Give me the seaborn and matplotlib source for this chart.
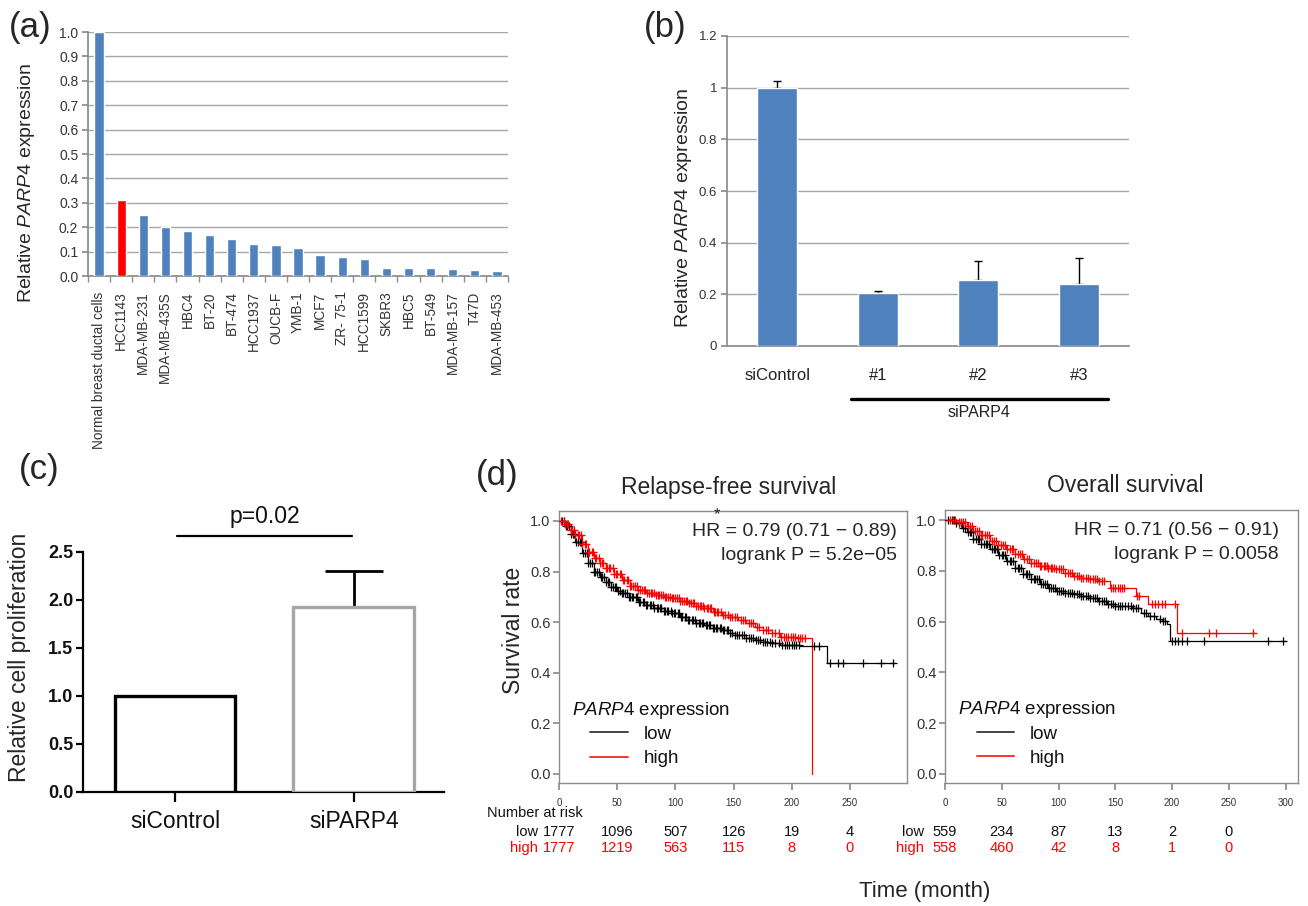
import matplotlib

matplotlib.use("Agg")
import matplotlib.pyplot as plt
import numpy as np
import seaborn as sns
from matplotlib.lines import Line2D

# (a) PARP4 expression across breast cancer cell lines
cell_lines = [
    "Normal breast ductal cells", "HCC1143", "MDA-MB-231", "MDA-MB-435S", "HBC4",
    "BT-20", "BT-474", "HCC1937", "OUCB-F", "YMB-1", "MCF7", "ZR- 75-1", "HCC1599",
    "SKBR3", "HBC5", "BT-549", "MDA-MB-157", "T47D", "MDA-MB-453",
]
cell_expression = [1.0, 0.311, 0.250, 0.201, 0.183, 0.168, 0.153, 0.133, 0.127, 0.114,
                   0.085, 0.079, 0.070, 0.031, 0.031, 0.031, 0.027, 0.026, 0.021]

# (b) knockdown efficiency
kd_groups = ["siControl", "#1", "#2", "#3"]
kd_mean = [1.0, 0.204, 0.255, 0.241]
kd_err = [0.027, 0.009, 0.074, 0.098]

# (c) proliferation
prolif_groups = ["siControl", "siPARP4"]
prolif_mean = [1.0, 1.93]
prolif_err = [0.0, 0.37]

# (d) Kaplan-Meier curves, relapse-free survival
rfs_low_t = [0, 5, 10, 14, 20, 25, 30, 35, 40, 45, 50, 54, 60, 68, 75, 82, 90, 97, 104, 111,
             118, 125, 132, 140, 147, 151, 161, 168, 175, 183, 190, 207, 230, 289]
rfs_low_s = [1.0, 0.98, 0.95, 0.918, 0.875, 0.833, 0.80, 0.78, 0.758, 0.738, 0.722, 0.714,
             0.698, 0.681, 0.667, 0.655, 0.644, 0.635, 0.622, 0.609, 0.598, 0.589, 0.579,
             0.569, 0.556, 0.549, 0.536, 0.53, 0.523, 0.516, 0.510, 0.507, 0.437, 0.437]
rfs_high_t = [0, 5, 10, 14, 20, 25, 30, 35, 40, 47, 54, 61, 68, 75, 83, 90, 97, 104, 111, 118,
              125, 132, 140, 147, 154, 161, 168, 175, 183, 190, 197, 204, 217]
rfs_high_s = [1.0, 0.99, 0.965, 0.945, 0.91, 0.879, 0.855, 0.832, 0.813, 0.79, 0.767, 0.745,
              0.727, 0.717, 0.708, 0.70, 0.694, 0.685, 0.675, 0.665, 0.655, 0.642, 0.628,
              0.622, 0.61, 0.596, 0.582, 0.569, 0.556, 0.543, 0.54, 0.536, 0.0]
rfs_low_cens = [3, 4, 6, 7, 9, 10, 12, 13, 15, 16, 18, 19, 21, 22, 24, 25, 27, 28, 30, 31, 33,
                34, 36, 37, 39, 40, 42, 43, 45, 46, 48, 49, 51, 52, 54, 55, 57, 58, 60, 61, 63,
                64, 66, 67, 69, 70, 72, 73, 75, 76, 78, 79, 81, 82, 84, 85, 87, 88, 90, 91, 93,
                94, 96, 97, 99, 100, 102, 103, 105, 106, 108, 109, 111, 112, 114, 115, 117,
                118, 120, 121, 123, 124, 126, 127, 129, 130, 132, 133, 135, 136, 138, 139,
                141, 142, 144, 145, 147, 149, 151, 153, 155, 157, 159, 161, 163, 165, 167,
                169, 171, 173, 175, 177, 179, 181, 183, 186, 189, 192, 194, 196, 198, 200,
                202, 204, 206, 219, 223, 233, 240, 244, 261, 277, 287]
rfs_high_cens = [2, 4, 5, 7, 8, 10, 11, 13, 14, 16, 17, 19, 20, 22, 23, 25, 26, 28, 29, 31, 32,
                 34, 35, 37, 38, 40, 41, 43, 44, 46, 47, 49, 50, 52, 53, 55, 56, 58, 59, 61,
                 62, 64, 65, 67, 68, 70, 71, 73, 74, 76, 77, 79, 80, 82, 83, 85, 86, 88, 89,
                 91, 92, 94, 95, 97, 98, 100, 101, 103, 104, 106, 107, 109, 110, 112, 113,
                 115, 116, 118, 119, 121, 122, 124, 125, 127, 128, 130, 131, 133, 134, 136,
                 137, 139, 141, 143, 145, 147, 149, 151, 153, 156, 158, 160, 163, 165, 167,
                 170, 172, 175, 178, 180, 183, 186, 189, 191, 193, 195, 197, 199, 201, 203,
                 205, 207, 209, 211]

# (d) overall survival
os_low_t = [0, 10, 15, 19, 25, 32, 40, 47, 54, 62, 69, 76, 84, 91, 98, 106, 113, 120, 128, 135,
            143, 150, 165, 173, 179, 186, 191, 196, 198, 300]
os_low_s = [1.0, 0.99, 0.97, 0.951, 0.925, 0.905, 0.885, 0.862, 0.839, 0.812, 0.787, 0.766,
            0.747, 0.733, 0.72, 0.713, 0.707, 0.70, 0.694, 0.68, 0.668, 0.661, 0.655, 0.635,
            0.622, 0.612, 0.602, 0.589, 0.523, 0.523]
os_high_t = [0, 10, 19, 25, 32, 40, 47, 54, 62, 69, 76, 84, 91, 98, 106, 113, 120, 128, 135,
             145, 168, 179, 204, 274]
os_high_s = [1.0, 0.993, 0.977, 0.958, 0.94, 0.918, 0.90, 0.885, 0.865, 0.846, 0.832, 0.82,
             0.812, 0.806, 0.793, 0.78, 0.773, 0.767, 0.76, 0.734, 0.70, 0.668, 0.556, 0.556]
os_low_cens = [3, 6, 8, 10, 12, 14, 16, 18, 20, 22, 23, 25, 27, 29, 30, 32, 34, 36, 37, 39,
               41, 43, 44, 46, 48, 50, 51, 53, 55, 57, 58, 60, 62, 64, 65, 67, 69, 71, 72, 74,
               76, 78, 79, 81, 83, 85, 86, 88, 90, 92, 93, 95, 97, 99, 100, 102, 104, 106,
               108, 110, 112, 114, 116, 118, 120, 122, 124, 126, 128, 130, 132, 134, 136, 138,
               140, 142, 144, 146, 148, 150, 152, 154, 156, 159, 161, 164, 166, 168, 170, 175,
               177, 181, 184, 189, 192, 194, 200, 203, 205, 209, 213, 228, 285, 298]
os_high_cens = [4, 7, 9, 12, 14, 16, 18, 20, 22, 24, 26, 28, 30, 32, 33, 35, 37, 39, 41, 43,
                45, 47, 49, 51, 53, 55, 57, 59, 60, 62, 64, 66, 68, 70, 72, 74, 76, 78, 80, 82,
                84, 85, 87, 88, 90, 91, 93, 94, 96, 98, 100, 102, 104, 106, 108, 110, 112, 114,
                116, 118, 120, 122, 124, 126, 128, 130, 132, 134, 136, 138, 140, 146, 148, 150,
                152, 154, 156, 158, 169, 171, 182, 185, 188, 191, 194, 203, 209, 233, 239, 271]

risk_times = [0, 50, 100, 150, 200, 250]
rfs_low_risk = [1777, 1096, 507, 126, 19, 4]
rfs_high_risk = [1777, 1219, 563, 115, 8, 0]
os_low_risk = [559, 234, 87, 13, 2, 0]
os_high_risk = [558, 460, 42, 8, 1, 0]

BLUE = "#4f81bd"
GRID = "#a6a6a6"
W, H = 1308, 906

sns.set_theme(style="white")
plt.rcParams["font.family"] = ["Liberation Sans", "DejaVu Sans"]
plt.rcParams["mathtext.fontset"] = "custom"
plt.rcParams["mathtext.it"] = "Liberation Sans:italic"
plt.rcParams["mathtext.rm"] = "Liberation Sans"

fig = plt.figure(figsize=(W / 100, H / 100), dpi=100)


def box(x0, y0, x1, y1):
    return [x0 / W, 1 - y1 / H, (x1 - x0) / W, (y1 - y0) / H]


def fig_text(x, y, s, **kw):
    fig.text(x / W, 1 - y / H, s, ha="center", va="center", **kw)


# ---------------- (a) ----------------
ax = fig.add_axes(box(88, 32, 508, 276))
colors = ["#ff0000" if c == "HCC1143" else BLUE for c in cell_lines]
sns.barplot(x=cell_lines, y=cell_expression, hue=cell_lines, palette=colors, legend=False,
            width=0.42, saturation=1, ax=ax, zorder=3)
ax.set_ylim(0, 1.0)
ax.set_xlim(-0.5, len(cell_lines) - 0.5)
ax.set_yticks(np.arange(0, 1.01, 0.1))
ax.set_yticklabels([f"{v:.1f}" for v in np.arange(0, 1.01, 0.1)])
ax.yaxis.grid(True, color=GRID, lw=1)
ax.set_axisbelow(True)
for side in ["top", "right"]:
    ax.spines[side].set_visible(False)
for side in ["left", "bottom"]:
    ax.spines[side].set_color("#8c8c8c")
ax.set_xticks(np.arange(-0.5, len(cell_lines)), minor=True)
ax.tick_params(axis="y", left=True, length=4, color="#8c8c8c", labelsize=10, labelcolor="#333333", pad=3)
ax.tick_params(axis="x", which="major", bottom=False, labelsize=9.8, labelrotation=90,
               labelcolor="#333333", pad=5)
ax.tick_params(axis="x", which="minor", bottom=True, length=4, color="#8c8c8c")
ax.set_xlabel("")
ax.set_ylabel("")
fig_text(27, 183, r"Relative $\mathit{PARP4}$ expression", rotation=90, fontsize=14)
fig_text(30, 27, "(a)", fontsize=25)

# ---------------- (b) ----------------
ax = fig.add_axes(box(727, 36, 1129, 346))
sns.barplot(x=kd_groups, y=kd_mean, color=BLUE, saturation=1, width=0.4, ax=ax, zorder=3)
ax.errorbar(x=np.arange(len(kd_groups)), y=kd_mean, yerr=[np.zeros(len(kd_err)), kd_err],
            fmt="none", ecolor="black", elinewidth=1, capsize=3, capthick=1, zorder=2)
ax.set_ylim(0, 1.2)
ax.set_xlim(-0.5, 3.5)
ax.set_yticks([0, 0.2, 0.4, 0.6, 0.8, 1.0, 1.2])
ax.set_yticklabels(["0", "0.2", "0.4", "0.6", "0.8", "1", "1.2"])
ax.yaxis.grid(True, color=GRID, lw=1)
ax.set_axisbelow(True)
for side in ["top", "right"]:
    ax.spines[side].set_visible(False)
for side in ["left", "bottom"]:
    ax.spines[side].set_color("#8c8c8c")
ax.tick_params(axis="y", left=True, length=4, color="#8c8c8c", labelsize=9.5, labelcolor="#333333", pad=3)
ax.tick_params(axis="x", bottom=False, labelsize=12, labelcolor="#222222", pad=10)
ax.set_xlabel("")
ax.set_ylabel("")
xtr = ax.get_xaxis_transform()
ax.plot([0.73, 3.29], [-0.171, -0.171], transform=xtr, clip_on=False, color="black", lw=2.4)
ax.text(2.01, -0.216, "siPARP4", transform=xtr, ha="center", va="center", fontsize=11.5, color="#222222")
fig_text(683, 208, r"Relative $\mathit{PARP4}$ expression", rotation=90, fontsize=14)
fig_text(665, 28, "(b)", fontsize=25)

# ---------------- (c) ----------------
ax = fig.add_axes(box(83, 552, 444, 792))
sns.barplot(x=prolif_groups, y=prolif_mean, color="white", saturation=1, width=0.676,
            linewidth=2.4, ax=ax, zorder=3)
for patch, ec in zip(ax.patches, ["black", "#a6a6a6"]):
    patch.set_edgecolor(ec)
    patch.set_facecolor("white")
ax.errorbar(x=[1], y=[prolif_mean[1]], yerr=[[0], [prolif_err[1]]], fmt="none", ecolor="black",
            elinewidth=2, capsize=21, capthick=2, zorder=2)
ax.set_ylim(0, 2.5)
ax.set_xlim(-0.514, 1.503)
ax.set_yticks([0, 0.5, 1.0, 1.5, 2.0, 2.5])
ax.set_yticklabels(["0.0", "0.5", "1.0", "1.5", "2.0", "2.5"], fontweight="bold")
for side in ["top", "right"]:
    ax.spines[side].set_visible(False)
for side in ["left", "bottom"]:
    ax.spines[side].set_color("black")
    ax.spines[side].set_linewidth(1.6)
ax.tick_params(axis="y", left=True, length=5, width=1.6, color="black", labelsize=13, labelcolor="#111111", pad=2)
ax.tick_params(axis="x", bottom=True, length=7, width=1.6, color="black", labelsize=16.5,
               labelcolor="#111111", pad=6)
ax.set_xlabel("")
ax.set_ylabel("")
ax.plot([0.01, 0.99], [2.667, 2.667], color="black", lw=1.6, clip_on=False)
ax.text(0.5, 2.865, "p=0.02", ha="center", va="center", fontsize=16.5, color="#111111")
fig_text(20, 657, "Relative cell proliferation", rotation=90, fontsize=16.5)
fig_text(39, 470, "(c)", fontsize=25)


# ---------------- (d) ----------------
def step_value(times, surv, t):
    idx = np.searchsorted(times, t, side="right") - 1
    return np.asarray(surv)[idx]


def km_panel(ax, curves, xmax, xticks):
    for t, s, cens, col in curves:
        sns.lineplot(x=t, y=s, drawstyle="steps-post", estimator=None, color=col, lw=0.9, ax=ax)
        sns.scatterplot(x=cens, y=step_value(t, s, cens), marker="+", color=col, s=40,
                        linewidth=0.9, ax=ax, zorder=3)
    ax.set_xlim(0, xmax)
    ax.set_ylim(-0.0356, 1.0395)
    ax.set_xticks(xticks)
    ax.set_yticks([0, 0.2, 0.4, 0.6, 0.8, 1.0])
    ax.set_yticklabels(["0.0", "0.2", "0.4", "0.6", "0.8", "1.0"])
    for side in ax.spines.values():
        side.set_color("#8c8c8c")
        side.set_linewidth(1)
    ax.tick_params(axis="y", left=True, length=4, color="#8c8c8c", labelsize=10.5, labelcolor="#333333", pad=2)
    ax.tick_params(axis="x", bottom=True, length=5, color="#8c8c8c", labelsize=7, labelcolor="#333333", pad=6)
    ax.set_xlabel("")
    ax.set_ylabel("")
    ax.text(0.037, 0.268, r"$\mathit{PARP4}$ expression", transform=ax.transAxes, va="center",
            ha="left", fontsize=13.5, color="#111111")
    handles = [Line2D([], [], color="#444444", lw=1.4), Line2D([], [], color="#ff3333", lw=1.4)]
    ax.legend(handles, ["low", "high"], loc="upper left", bbox_to_anchor=(0.09, 0.21),
              frameon=False, fontsize=13.5, handlelength=2.0, handletextpad=0.85,
              labelspacing=0.38, borderpad=0, borderaxespad=0, labelcolor="#111111")


ax1 = fig.add_axes(box(559, 511, 907, 783))
km_panel(ax1, [(rfs_low_t, rfs_low_s, rfs_low_cens, "black"),
               (rfs_high_t, rfs_high_s, rfs_high_cens, "red")], 299, [0, 50, 100, 150, 200, 250])
ax1.text(0.486, 1.088, "Relapse-free survival", transform=ax1.transAxes, ha="center", va="center", fontsize=16.5)
ax1.text(0.97, 0.923, "HR = 0.79 (0.71 − 0.89)", transform=ax1.transAxes, ha="right", va="center", fontsize=14)
ax1.text(0.97, 0.835, "logrank P = 5.2e−05", transform=ax1.transAxes, ha="right", va="center", fontsize=14)
ax1.text(0.455, 0.985, "*", transform=ax1.transAxes, ha="center", va="center", fontsize=12)

ax2 = fig.add_axes(box(945, 510, 1298, 783))
km_panel(ax2, [(os_low_t, os_low_s, os_low_cens, "black"),
               (os_high_t, os_high_s, os_high_cens, "red")], 311, [0, 50, 100, 150, 200, 250, 300])
ax2.text(0.51, 1.088, "Overall survival", transform=ax2.transAxes, ha="center", va="center", fontsize=16.5)
ax2.text(0.946, 0.924, "HR = 0.71 (0.56 − 0.91)", transform=ax2.transAxes, ha="right", va="center", fontsize=14)
ax2.text(0.946, 0.838, "logrank P = 0.0058", transform=ax2.transAxes, ha="right", va="center", fontsize=14)

# number at risk tables
for ax, low, high in [(ax1, rfs_low_risk, rfs_high_risk), (ax2, os_low_risk, os_high_risk)]:
    tr = ax.get_xaxis_transform()
    ax.text(-0.06, -0.18, "low", transform=ax.transAxes, ha="right", va="center", fontsize=10.5, color="#111111")
    ax.text(-0.06, -0.239, "high", transform=ax.transAxes, ha="right", va="center", fontsize=10.5, color="red")
    for t, lo, hi in zip(risk_times, low, high):
        ax.text(t, -0.18, str(lo), transform=tr, ha="center", va="center", fontsize=10.5, color="#111111")
        ax.text(t, -0.239, str(hi), transform=tr, ha="center", va="center", fontsize=10.5, color="red")
ax1.text(-0.208, -0.11, "Number at risk", transform=ax1.transAxes, ha="left", va="center", fontsize=10.5, color="#111111")

fig_text(513, 630, "Survival rate", rotation=90, fontsize=16.5)
fig_text(925, 892, "Time (month)", fontsize=16)
fig_text(497, 475, "(d)", fontsize=25)

fig.savefig("out.png", dpi=100, facecolor="white")
